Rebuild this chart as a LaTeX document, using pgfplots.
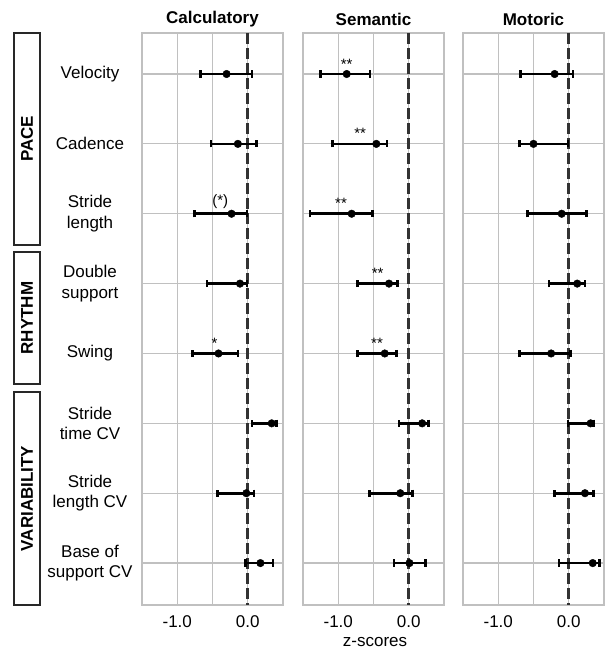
\documentclass[border=0pt]{standalone}
\usepackage{fontspec}
\setmainfont{Liberation Sans}
\usepackage{pgfplots}
\usepackage{pgfplotstable}
\pgfplotsset{compat=1.18}

\definecolor{gridgray}{RGB}{192,192,192}
\definecolor{zeroline}{RGB}{50,50,50}
\definecolor{boxgray}{RGB}{40,40,40}
\newcommand\fs{\fontsize{17}{20.5}\selectfont}
\newcommand\fa{\fontsize{15}{17}\selectfont}

% row, mean, lower and upper limit
\pgfplotstableread{
row m lo hi
1 -0.30 -0.67 0.06
2 -0.14 -0.52 0.12
3 -0.23 -0.76 -0.01
4 -0.11 -0.58 -0.01
5 -0.415 -0.78 -0.14
6 0.34 0.06 0.41
7 -0.02 -0.43 0.09
8 0.18 -0.03 0.36
}\calc
\pgfplotstableread{
row m lo hi
1 -0.88 -1.25 -0.55
2 -0.46 -1.08 -0.31
3 -0.81 -1.40 -0.51
4 -0.28 -0.73 -0.16
5 -0.34 -0.73 -0.17
6 0.19 -0.14 0.28
7 -0.12 -0.56 0.05
8 0.01 -0.21 0.24
}\sema
\pgfplotstableread{
row m lo hi
1 -0.20 -0.68 0.06
2 -0.50 -0.70 -0.01
3 -0.10 -0.59 0.25
4 0.12 -0.28 0.23
5 -0.25 -0.70 0.02
6 0.31 -0.01 0.35
7 0.23 -0.20 0.35
8 0.34 -0.14 0.44
}\moto

\pgfplotsset{
  panel/.style={
    scale only axis, width=141pt, height=572pt, anchor=south west,
    xmin=-1.5, xmax=0.5, ymin=0.413, ymax=8.6, y dir=reverse,
    xtick={-1,0}, xticklabels={-1.0,0.0}, minor xtick={-0.5}, ytick={1,...,8},
    xmajorgrids, xminorgrids, ymajorgrids,
    major x grid style={gridgray, line width=1.2pt},
    minor x grid style={gridgray, line width=1.2pt},
    major y grid style={gridgray, line width=1.2pt},
    axis line style={gridgray, line width=1.2pt},
    major tick length=0pt, minor tick length=0pt,
    tick style={draw=none},
    tick label style={font=\fs},
    xticklabel style={anchor=center, yshift=-17pt},
    title style={font=\fs\bfseries, anchor=center, yshift=7.4pt},
  },
  ci/.style={black, only marks, mark=*, mark size=3.8pt,
    table/x=m, table/y=row,
    table/x error plus expr=\thisrow{hi}-\thisrow{m},
    table/x error minus expr=\thisrow{m}-\thisrow{lo},
    error bars/.cd, x dir=both, x explicit,
    error bar style={line width=2.7pt},
    error mark options={rotate=90, line width=2.7pt, mark size=3.6pt}},
  zero/.style={zeroline, line width=2.7pt, dash pattern=on 11pt off 4pt},
}

\begin{document}
\begin{tikzpicture}
\useasboundingbox (0pt,0pt) rectangle (606pt,650pt);

\begin{axis}[panel, at={(142pt,45pt)}, title={Calculatory},
  yticklabels={Velocity, Cadence, {Stride\\length}, {Double\\support}, Swing, {Stride\\time CV}, {Stride\\length CV}, {Base of\\support CV}},
  yticklabel style={align=center, anchor=center, xshift=-52pt}]
\addplot[zero] coordinates {(0,0.413) (0,8.6)};
\addplot[ci] table {\calc};
\node[font=\fa, anchor=base] at (axis cs:-0.39,2.88) {(*)};
\node[font=\fa, anchor=base] at (axis cs:-0.47,4.93) {*};
\end{axis}

\begin{axis}[panel, at={(303pt,45pt)}, title={Semantic}, yticklabels={}]
\addplot[zero] coordinates {(0,0.413) (0,8.6)};
\addplot[ci] table {\sema};
\node[font=\fa, anchor=base] at (axis cs:-0.88,0.93) {**};
\node[font=\fa, anchor=base] at (axis cs:-0.69,1.93) {**};
\node[font=\fa, anchor=base] at (axis cs:-0.96,2.93) {**};
\node[font=\fa, anchor=base] at (axis cs:-0.44,3.93) {**};
\node[font=\fa, anchor=base] at (axis cs:-0.45,4.93) {**};
\end{axis}

\begin{axis}[panel, at={(463pt,45pt)}, title={Motoric}, yticklabels={}]
\addplot[zero] coordinates {(0,0.413) (0,8.6)};
\addplot[ci] table {\moto};
\end{axis}

\node[font=\fs] at (375pt,8.3pt) {z-scores};

\draw[boxgray, line width=1.5pt] (14pt,405pt) rectangle (40pt,617pt);
\node[rotate=90, font=\fs\bfseries] at (27pt,511pt) {PACE};
\draw[boxgray, line width=1.5pt] (14pt,266pt) rectangle (40pt,398pt);
\node[rotate=90, font=\fs\bfseries] at (27pt,332pt) {RHYTHM};
\draw[boxgray, line width=1.5pt] (14pt,45pt) rectangle (40pt,258pt);
\node[rotate=90, font=\fs\bfseries] at (27pt,151.5pt) {VARIABILITY};
\end{tikzpicture}
\end{document}
